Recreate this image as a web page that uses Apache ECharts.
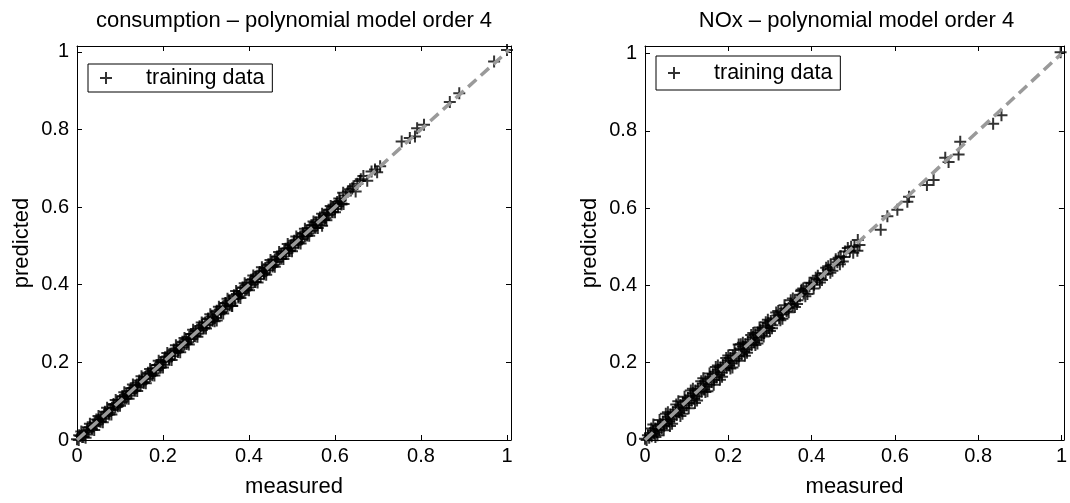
<!DOCTYPE html>
<html><head><meta charset="utf-8">
<script src="https://cdn.jsdelivr.net/npm/echarts@6/dist/echarts.min.js"></script>
<style>html,body{margin:0;padding:0;background:#fff}#c{width:1070px;height:503px}</style>
</head><body><div id="c"></div>
<script>
const titles = ['consumption \u2013 polynomial model order 4', 'NOx \u2013 polynomial model order 4'];
const xName = 'measured';
const yName = 'predicted';
const legendName = 'training data';
const tickLabels = ['0', '0.2', '0.4', '0.6', '0.8', '1'];
const tickValues = [0, 0.2, 0.4, 0.6, 0.8, 1];
const consXmax = 1.0093, consYmax = 1.015;
const noxXmax = 1.006, noxYmax = 1.02;
const consLine = [[0, 0], [1.005, 1.005]];
const noxLine = [[0, 0], [1.0, 1.0]];

const consData = [
[0.000,0.002],[0.004,0.000],[0.008,0.010],[0.012,0.008],[0.015,0.018],[0.019,0.014],[0.023,0.025],[0.027,0.022],
[0.030,0.033],[0.034,0.030],[0.038,0.036],[0.041,0.045],[0.045,0.040],[0.049,0.052],[0.052,0.048],[0.056,0.058],
[0.060,0.055],[0.063,0.066],[0.067,0.062],[0.071,0.073],[0.074,0.070],[0.078,0.080],[0.082,0.077],[0.085,0.090],
[0.089,0.084],[0.093,0.096],[0.096,0.092],[0.100,0.103],[0.104,0.098],[0.107,0.112],[0.111,0.106],[0.115,0.118],
[0.118,0.114],[0.122,0.126],[0.126,0.121],[0.129,0.134],[0.133,0.128],[0.137,0.140],[0.140,0.136],[0.144,0.148],
[0.148,0.143],[0.151,0.156],[0.155,0.150],[0.159,0.162],[0.162,0.158],[0.166,0.170],[0.170,0.165],[0.173,0.178],
[0.177,0.172],[0.181,0.184],[0.184,0.180],[0.188,0.193],[0.192,0.186],[0.195,0.200],[0.199,0.194],[0.203,0.207],
[0.206,0.202],[0.210,0.215],[0.214,0.208],[0.217,0.222],[0.221,0.216],[0.225,0.229],[0.228,0.224],[0.232,0.236],
[0.236,0.231],[0.239,0.244],[0.243,0.238],[0.247,0.251],[0.250,0.246],[0.254,0.259],[0.258,0.252],[0.261,0.266],
[0.265,0.260],[0.269,0.273],[0.272,0.268],[0.276,0.281],[0.280,0.274],[0.283,0.288],[0.287,0.282],[0.291,0.296],
[0.294,0.289],[0.298,0.303],[0.302,0.296],[0.305,0.311],[0.309,0.303],[0.313,0.318],[0.316,0.311],[0.320,0.314],
[0.325,0.308],[0.324,0.330],[0.328,0.324],[0.332,0.336],[0.335,0.330],[0.339,0.344],[0.343,0.337],[0.346,0.352],
[0.350,0.344],[0.354,0.358],[0.357,0.352],[0.361,0.345],[0.365,0.369],[0.368,0.363],[0.372,0.376],[0.376,0.370],
[0.380,0.384],[0.383,0.378],[0.387,0.392],[0.391,0.385],[0.394,0.399],[0.398,0.393],[0.402,0.406],[0.405,0.400],
[0.409,0.414],[0.413,0.407],[0.416,0.421],[0.420,0.415],[0.424,0.428],[0.427,0.422],[0.431,0.436],[0.435,0.430],
[0.438,0.443],[0.442,0.437],[0.446,0.450],[0.449,0.444],[0.453,0.458],[0.457,0.451],[0.460,0.465],[0.464,0.459],
[0.468,0.472],[0.471,0.466],[0.475,0.480],[0.479,0.473],[0.482,0.487],[0.486,0.481],[0.490,0.494],[0.493,0.488],
[0.497,0.502],[0.501,0.495],[0.504,0.509],[0.508,0.503],[0.512,0.516],[0.515,0.510],[0.519,0.524],[0.523,0.517],
[0.526,0.531],[0.530,0.525],[0.534,0.538],[0.537,0.532],[0.541,0.546],[0.545,0.539],[0.548,0.553],[0.552,0.547],
[0.556,0.560],[0.559,0.554],[0.563,0.568],[0.567,0.561],[0.570,0.552],[0.574,0.578],[0.578,0.571],[0.581,0.586],
[0.585,0.580],[0.589,0.593],[0.592,0.588],[0.596,0.601],[0.600,0.595],[0.603,0.608],[0.607,0.602],[0.611,0.616],
[0.615,0.609],[0.619,0.637],[0.625,0.630],[0.630,0.640],[0.643,0.654],[0.658,0.667],[0.666,0.680],[0.693,0.697],
[0.705,0.705],[0.755,0.769],[0.774,0.778],[0.786,0.782],[0.791,0.803],[0.807,0.812],[0.867,0.871],[0.889,0.893],
[0.970,0.975],[1.000,1.005]
];
const consSpread = [
[0.010,0.022],[0.020,0.006],[0.030,0.042],[0.040,0.026],[0.050,0.062],[0.060,0.046],[0.070,0.083],[0.080,0.066],
[0.090,0.103],[0.100,0.088],[0.110,0.123],[0.120,0.106],[0.130,0.143],[0.140,0.126],[0.150,0.164],[0.160,0.146],
[0.170,0.183],[0.180,0.166],[0.190,0.204],[0.200,0.187],[0.210,0.224],[0.220,0.206],[0.230,0.244],[0.240,0.226],
[0.250,0.263],[0.260,0.246],[0.270,0.284],[0.280,0.266],[0.290,0.303],[0.300,0.287],[0.310,0.324],[0.320,0.306],
[0.330,0.343],[0.340,0.326],[0.350,0.364],[0.360,0.346],[0.370,0.384],[0.380,0.366],[0.390,0.404],[0.400,0.386],
[0.410,0.424],[0.420,0.406],[0.430,0.445],[0.440,0.426],[0.450,0.464],[0.460,0.446],[0.470,0.484],[0.480,0.466],
[0.490,0.505],[0.500,0.486],[0.510,0.524],[0.520,0.506],[0.530,0.544],[0.540,0.526],[0.550,0.563],[0.560,0.546],
[0.570,0.583],[0.580,0.566],[0.590,0.603],[0.600,0.587],[0.610,0.622],[0.620,0.608],[0.635,0.646],[0.648,0.640],
[0.660,0.672],[0.675,0.668],[0.685,0.692],[0.698,0.690]
];
const consFill = [
[0.005,0.012],[0.015,0.008],[0.025,0.033],[0.035,0.027],[0.045,0.053],[0.055,0.047],[0.065,0.073],[0.075,0.066],
[0.085,0.093],[0.095,0.087],[0.105,0.113],[0.115,0.107],[0.125,0.133],[0.135,0.127],[0.145,0.153],[0.155,0.147],
[0.165,0.173],[0.175,0.167],[0.185,0.193],[0.195,0.187],[0.205,0.213],[0.215,0.207],[0.225,0.233],[0.235,0.227],
[0.245,0.253],[0.255,0.247],[0.265,0.273],[0.275,0.267],[0.285,0.293],[0.295,0.287],[0.305,0.313],[0.315,0.307],
[0.325,0.333],[0.335,0.327],[0.345,0.353],[0.355,0.347],[0.365,0.373],[0.375,0.367],[0.385,0.393],[0.395,0.387],
[0.405,0.413],[0.415,0.407],[0.425,0.433],[0.435,0.427],[0.445,0.453],[0.455,0.447],[0.465,0.473],[0.475,0.467],
[0.485,0.493],[0.495,0.487],[0.505,0.513],[0.515,0.507],[0.525,0.533],[0.535,0.527],[0.545,0.553],[0.555,0.547],
[0.565,0.573],[0.575,0.567],[0.585,0.593],[0.595,0.587],[0.605,0.613],[0.615,0.607],[0.640,0.648],[0.652,0.660]
];

const noxData = [
[0.000,0.003],[0.004,0.000],[0.007,0.012],[0.010,0.006],[0.013,0.018],[0.016,0.010],[0.019,0.024],[0.022,0.016],
[0.025,0.030],[0.028,0.020],[0.031,0.036],[0.034,0.026],[0.037,0.041],[0.040,0.031],[0.043,0.047],[0.046,0.037],
[0.049,0.053],[0.052,0.042],[0.055,0.060],[0.058,0.048],[0.061,0.066],[0.064,0.054],[0.067,0.072],[0.070,0.060],
[0.073,0.078],[0.076,0.065],[0.079,0.085],[0.082,0.072],[0.085,0.090],[0.088,0.077],[0.091,0.097],[0.094,0.083],
[0.097,0.102],[0.100,0.090],[0.103,0.109],[0.106,0.095],[0.109,0.115],[0.112,0.102],[0.115,0.121],[0.118,0.107],
[0.121,0.128],[0.124,0.113],[0.127,0.133],[0.130,0.120],[0.133,0.139],[0.136,0.125],[0.139,0.146],[0.142,0.131],
[0.145,0.152],[0.148,0.138],[0.151,0.158],[0.154,0.144],[0.157,0.164],[0.160,0.150],[0.163,0.170],[0.166,0.156],
[0.169,0.177],[0.172,0.162],[0.175,0.182],[0.178,0.168],[0.181,0.188],[0.184,0.175],[0.187,0.194],[0.190,0.181],
[0.193,0.200],[0.196,0.187],[0.199,0.206],[0.202,0.193],[0.205,0.212],[0.208,0.199],[0.211,0.218],[0.214,0.205],
[0.217,0.224],[0.220,0.211],[0.225,0.247],[0.226,0.217],[0.229,0.236],[0.232,0.222],[0.235,0.242],[0.238,0.229],
[0.241,0.248],[0.244,0.235],[0.247,0.254],[0.250,0.240],[0.253,0.260],[0.256,0.246],[0.259,0.266],[0.262,0.253],
[0.265,0.273],[0.268,0.258],[0.271,0.278],[0.274,0.265],[0.277,0.284],[0.280,0.271],[0.283,0.290],[0.286,0.277],
[0.289,0.296],[0.292,0.284],[0.295,0.302],[0.298,0.290],[0.302,0.308],[0.306,0.297],[0.310,0.315],[0.313,0.312],
[0.318,0.322],[0.322,0.315],[0.327,0.331],[0.331,0.325],[0.336,0.340],[0.340,0.333],[0.345,0.342],[0.350,0.352],
[0.355,0.348],[0.360,0.359],[0.366,0.362],[0.372,0.376],[0.376,0.389],[0.381,0.379],[0.388,0.392],[0.395,0.398],
[0.400,0.406],[0.406,0.402],[0.413,0.416],[0.420,0.418],[0.428,0.432],[0.434,0.430],[0.439,0.441],[0.446,0.452],
[0.455,0.454],[0.462,0.460],[0.470,0.476],[0.478,0.474],[0.487,0.497],[0.492,0.488],[0.503,0.501],[0.511,0.518],
[0.510,0.490],[0.515,0.505],[0.566,0.544],[0.582,0.579],[0.606,0.596],[0.630,0.617],[0.634,0.630],[0.677,0.660],
[0.693,0.673],[0.721,0.731],[0.729,0.720],[0.753,0.739],[0.757,0.772],[0.836,0.819],[0.856,0.841],[0.998,1.004]
];
const noxSpread = [
[0.015,0.030],[0.025,0.008],[0.035,0.052],[0.045,0.025],[0.055,0.072],[0.065,0.042],[0.075,0.092],[0.085,0.062],
[0.095,0.112],[0.105,0.082],[0.115,0.133],[0.125,0.102],[0.135,0.152],[0.145,0.124],[0.155,0.172],[0.165,0.143],
[0.175,0.193],[0.185,0.164],[0.195,0.212],[0.205,0.185],[0.215,0.233],[0.225,0.205],[0.235,0.252],[0.245,0.226],
[0.255,0.272],[0.265,0.246],[0.275,0.291],[0.285,0.268],[0.295,0.311],[0.305,0.289],[0.315,0.330],[0.325,0.310],
[0.335,0.349],[0.345,0.331],[0.355,0.366],[0.365,0.352],[0.375,0.386],[0.385,0.372],[0.395,0.407],[0.405,0.392],
[0.415,0.425],[0.425,0.414],[0.435,0.446],[0.445,0.433],[0.458,0.468],[0.468,0.455],[0.480,0.488],[0.495,0.500],
[0.500,0.485]
];
const noxFill = [
[0.020,0.040],[0.030,0.012],[0.050,0.068],[0.060,0.036],[0.080,0.100],[0.090,0.068],[0.110,0.128],[0.120,0.096],
[0.140,0.160],[0.150,0.126],[0.170,0.189],[0.180,0.156],[0.200,0.219],[0.210,0.188],[0.230,0.248],[0.240,0.218],
[0.260,0.277],[0.270,0.250],[0.290,0.305],[0.300,0.282],[0.320,0.334],[0.330,0.314],[0.350,0.362],[0.360,0.344],
[0.380,0.392],[0.390,0.378],[0.410,0.420],[0.420,0.408],[0.440,0.450],[0.450,0.438],[0.465,0.472],[0.475,0.462]
];

const FONT = '"Liberation Sans", Arial, Helvetica, sans-serif';
const PLUS = 'path://M5,0L5,10M0,5L10,5';

function tickFmt(v) {
  const i = tickValues.findIndex(t => Math.abs(t - v) < 1e-6);
  return i >= 0 ? tickLabels[i] : '';
}

const grids = [
  { left: 77, top: 46, width: 434, height: 397, xmax: consXmax, ymax: consYmax, data: consData.concat(consSpread, consFill), line: consLine, legendTop: 64, legendPad: [3, 8, 3, 11] },
  { left: 645, top: 46, width: 423, height: 397, xmax: noxXmax, ymax: noxYmax, data: noxData.concat(noxSpread, noxFill), line: noxLine, legendTop: 56, legendPad: [6, 8, 6, 11] }
];

const option = {
  backgroundColor: '#fff',
  animation: false,
  textStyle: { fontFamily: FONT },
  title: [], grid: [], xAxis: [], yAxis: [], series: [], legend: []
};

grids.forEach((g, k) => {
  option.title.push({
    text: titles[k], left: g.left + g.width / 2, top: 10, textAlign: 'center', padding: 0,
    textStyle: { fontFamily: FONT, fontSize: 22, fontWeight: 'normal', color: '#000' }
  });
  option.grid.push({ left: g.left, top: g.top, width: g.width, height: g.height, containLabel: false });
  const axisLine = { show: true, onZero: false, lineStyle: { color: '#000', width: 1 } };
  const axisTick = { show: true, inside: true, length: 5, lineStyle: { color: '#000', width: 1 } };
  const labelStyle = { color: '#000', fontFamily: FONT, fontSize: 20, formatter: tickFmt };
  option.xAxis.push({
    type: 'value', gridIndex: k, min: 0, max: g.xmax, interval: 0.2, position: 'bottom',
    axisLine, axisTick, splitLine: { show: false },
    axisLabel: Object.assign({ margin: 6 }, labelStyle),
    name: xName, nameLocation: 'middle', nameGap: 36,
    nameTextStyle: { color: '#000', fontFamily: FONT, fontSize: 22 }
  });
  option.xAxis.push({
    type: 'value', gridIndex: k, min: 0, max: g.xmax, interval: 0.2, position: 'top',
    axisLine, axisTick, splitLine: { show: false }, axisLabel: { show: false }
  });
  option.yAxis.push({
    type: 'value', gridIndex: k, min: 0, max: g.ymax, interval: 0.2, position: 'left',
    axisLine, axisTick, splitLine: { show: false },
    axisLabel: Object.assign({ margin: 8 }, labelStyle),
    name: yName, nameLocation: 'middle', nameGap: 44,
    nameTextStyle: { color: '#000', fontFamily: FONT, fontSize: 22 }
  });
  option.yAxis.push({
    type: 'value', gridIndex: k, min: 0, max: g.ymax, interval: 0.2, position: 'right',
    axisLine, axisTick, splitLine: { show: false }, axisLabel: { show: false }
  });
  option.series.push({
    name: legendName, type: 'scatter', xAxisIndex: 2 * k, yAxisIndex: 2 * k,
    data: g.data, symbol: PLUS, symbolSize: 12, z: 2, silent: true,
    itemStyle: { color: 'rgba(0,0,0,0)', borderColor: '#000', borderWidth: 2 }
  });
  option.series.push({
    name: 'y = x', type: 'line', xAxisIndex: 2 * k, yAxisIndex: 2 * k,
    data: g.line, symbol: 'none', z: 5, silent: true,
    lineStyle: { color: '#9a9a9a', width: 3.5, type: [11, 6] }
  });
  option.legend.push({
    data: [legendName], left: g.left + 11, top: g.legendTop, orient: 'horizontal',
    padding: g.legendPad, itemWidth: 70, itemHeight: 12, itemGap: 0,
    selectedMode: false, backgroundColor: '#fff', borderColor: '#000', borderWidth: 1,
    borderRadius: 0, icon: PLUS,
    itemStyle: { color: 'rgba(0,0,0,0)', borderColor: '#000', borderWidth: 2 },
    textStyle: { color: '#000', fontFamily: FONT, fontSize: 21.5, padding: [0, 0, 0, 0] }
  });
});

const chart = echarts.init(document.getElementById('c'), null, { renderer: 'canvas' });
chart.setOption(option);
</script>
</body></html>
